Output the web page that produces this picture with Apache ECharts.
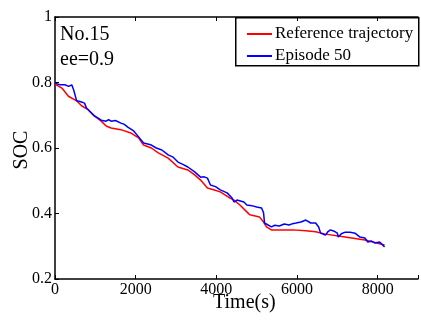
<!DOCTYPE html>
<html><head><meta charset="utf-8">
<script src="https://cdn.jsdelivr.net/npm/echarts@6/dist/echarts.min.js"></script>
<style>html,body{margin:0;padding:0;background:#fff}#c{width:421px;height:325px}</style>
</head><body><div id="c"></div>
<script>
const refT = [0,171,334,537,659,822,976,1146,1268,1390,1634,1878,2073,2195,2390,2561,2805,3049,3293,3463,3610,3780,3951,4098,4341,4439,4585,4756,4829,5073,5171,5244,5366,5561,5902,6219,6463,6707,7195,7683,8171];
const refV = [0.795,0.783,0.758,0.744,0.729,0.717,0.698,0.682,0.667,0.661,0.656,0.646,0.631,0.609,0.600,0.585,0.569,0.542,0.533,0.518,0.502,0.478,0.472,0.466,0.447,0.441,0.426,0.405,0.396,0.389,0.374,0.359,0.350,0.350,0.350,0.347,0.344,0.337,0.328,0.319,0.304];
const epT = [0,120,244,340,415,463,537,640,732,780,854,976,1060,1146,1268,1330,1390,1500,1634,1720,1805,1951,2073,2195,2300,2390,2512,2650,2805,2930,3049,3170,3293,3463,3610,3700,3780,3854,3980,4098,4268,4390,4439,4512,4683,4756,4880,5000,5122,5171,5195,5244,5366,5450,5561,5683,5805,5890,5976,6100,6219,6341,6463,6537,6585,6707,6770,6829,6920,7000,7024,7100,7195,7317,7439,7500,7561,7683,7756,7850,7927,8049,8098,8171];
const epV = [0.798,0.793,0.793,0.788,0.793,0.777,0.744,0.741,0.737,0.722,0.713,0.698,0.692,0.685,0.682,0.687,0.682,0.684,0.676,0.672,0.664,0.652,0.634,0.615,0.612,0.609,0.600,0.594,0.579,0.572,0.557,0.550,0.542,0.527,0.511,0.512,0.508,0.487,0.482,0.472,0.463,0.447,0.435,0.441,0.435,0.426,0.424,0.420,0.417,0.402,0.371,0.365,0.359,0.364,0.362,0.368,0.365,0.369,0.371,0.374,0.380,0.371,0.371,0.359,0.340,0.334,0.345,0.350,0.346,0.340,0.328,0.338,0.343,0.343,0.340,0.334,0.328,0.325,0.313,0.316,0.310,0.313,0.307,0.298];
const xTicks = [0,2000,4000,6000,8000];
const yTicks = [0.2,0.4,0.6,0.8,1];
const seriesNames = ['Reference trajectory','Episode 50'];

const FONT = 'Liberation Serif';
const chart = echarts.init(document.getElementById('c'), null, {renderer:'canvas'});
const axLine = {show:true, lineStyle:{color:'#000', width:1.5}};
chart.setOption({
  animation:false,
  backgroundColor:'#fff',
  grid:{left:55, top:17, right:-4, bottom:46, containLabel:false},
  xAxis:[{
    type:'value', min:0, max:9000, interval:2000,
    axisLine:axLine, axisTick:{show:true, inside:true, length:4, lineStyle:{color:'#000', width:1}},
    axisLabel:{color:'#000', fontFamily:FONT, fontSize:16, margin:3,
      formatter:v=> xTicks.includes(v) ? String(v) : ''},
    splitLine:{show:false}
  },{
    type:'value', position:'top', min:0, max:9000, interval:2000,
    axisLine:axLine, axisTick:{show:true, inside:true, length:4, lineStyle:{color:'#000', width:1}},
    axisLabel:{show:false}, splitLine:{show:false}
  }],
  yAxis:{
    type:'value', min:0.2, max:1, interval:0.2,
    axisLine:axLine, axisTick:{show:true, inside:true, length:4, lineStyle:{color:'#000', width:1}},
    axisLabel:{color:'#000', fontFamily:FONT, fontSize:16, margin:3,
      formatter:v=>{ const t = yTicks.find(k=>Math.abs(k-v)<1e-6); return t===undefined?'':String(t);} },
    splitLine:{show:false}
  },
  legend:{
    orient:'vertical', left:242, top:20, itemWidth:25, itemHeight:2, itemGap:4, icon:'rect',
    data:seriesNames,
    textStyle:{color:'#000', fontFamily:FONT, fontSize:17, padding:[0,0,0,-2], lineHeight:18}
  },
  graphic:[
    {type:'rect', left:235, top:17, shape:{width:183, height:48}, style:{fill:'#fff', stroke:'#000', lineWidth:1.5}, z:-1, zlevel:0},
    {type:'text', left:60, top:25, style:{text:'No.15', font:'20px "Liberation Serif"', fill:'#000'}},
    {type:'text', left:60, top:50, style:{text:'ee=0.9', font:'20px "Liberation Serif"', fill:'#000'}},
    {type:'text', left:213, top:293, style:{text:'Time(s)', font:'20px "Liberation Serif"', fill:'#000'}},
    {type:'text', x:22, y:150, rotation:Math.PI/2, style:{text:'SOC', font:'20px "Liberation Serif"', fill:'#000', align:'center', verticalAlign:'middle'}}
  ],
  series:[
    {name:seriesNames[0], type:'line', symbol:'none', data:refT.map((t,i)=>[t,refV[i]]),
      lineStyle:{color:'#ff0000', width:1.5}, itemStyle:{color:'#ff0000'}, z:3},
    {name:seriesNames[1], type:'line', symbol:'none', data:epT.map((t,i)=>[t,epV[i]]),
      lineStyle:{color:'#0000ff', width:1.5}, itemStyle:{color:'#0000ff'}, z:4}
  ]
});
</script></body></html>
